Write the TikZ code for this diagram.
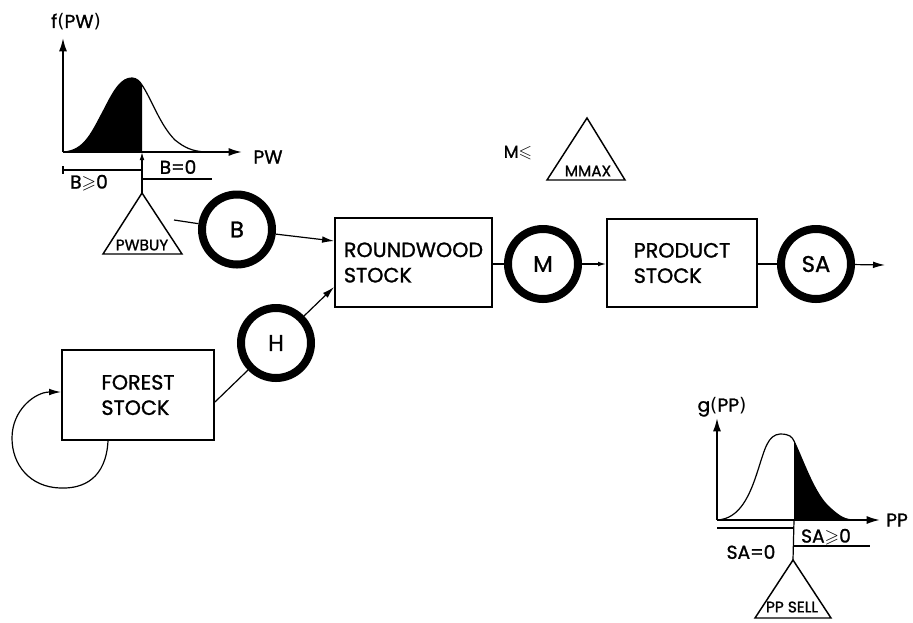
\documentclass[tikz,border=0pt]{standalone}
\usepackage{amssymb}
\usepackage{fontspec}
\setmainfont{Poppins}[FakeBold=1.2]
\newfontfamily\parenfont{DejaVu Sans}
\newcommand{\lp}{{\parenfont(}}
\newcommand{\rp}{{\parenfont)}}
\usetikzlibrary{arrows.meta}
\begin{document}
\begin{tikzpicture}[x=0.75pt,y=-0.75pt,
  stockbox/.style={draw,line width=1.4pt,align=left,font=\fontsize{15.5}{19}\selectfont,inner sep=0pt},
  rate/.style={draw,circle,line width=6pt,minimum size=52.5pt,inner sep=0pt,font=\fontsize{17}{20}\selectfont},
  conn/.style={line width=0.9pt},
  arr/.style={conn,-{Latex[length=9pt,width=5pt]}},
  sarr/.style={conn,-{Latex[length=6pt,width=3.5pt]}},
  lbl/.style={font=\fontsize{14}{16}\selectfont,inner sep=0pt},
  tri/.style={line width=1.1pt,line join=miter},
  small/.style={font=\fontsize{11.5}{13}\selectfont,inner sep=0pt},
  axis/.style={line width=1.3pt,-{Latex[length=10pt,width=6pt]}},
  curve/.style={line width=0.9pt}
]
\useasboundingbox[fill=white] (0,0) rectangle (913,622);

% ---- stocks
\node[stockbox,minimum width=117.75pt,minimum height=66.75pt] (rw) at (413.5,262.5) {ROUNDWOOD\\STOCK};
\node[stockbox,minimum width=112.5pt,minimum height=66pt] (ps) at (682,263) {PRODUCT\\STOCK};
\node[stockbox,minimum width=114pt,minimum height=67.5pt] (fs) at (138,395) {FOREST\\STOCK};

% ---- rates
\node[rate] (B) at (237,229.5) {B};
\node[rate] (H) at (276,343) {H};
\node[rate] (M) at (543,264) {M};
\node[rate] (SA) at (816,264) {SA};

% ---- connectors
\coordinate (pwout) at (174,220);
\draw[conn] (pwout) -- (B);
\draw[arr] (B) -- (rw.west |- 0,241);
\draw[arr] (H) -- (rw.west |- 0,287);
\draw[conn] (fs.east |- 0,402) -- (H);
\draw[conn] (rw.east |- M) -- (M);
\draw[sarr] (M) -- (ps.west |- M);
\draw[conn] (ps.east |- SA) -- (SA);
\coordinate (out) at (885,265);
\draw[arr] (SA) -- (out);
\draw[arr] (fs.south -| 108,0) .. controls (106,478) and (84,489) .. (60,488)
  .. controls (30,487) and (12,465) .. (12,438)
  .. controls (12,410) and (35,392) .. (fs.west |- 0,392);

% ---- PWBUY triangle and f(PW)
\coordinate (pwA) at (142,193);
\draw[tri] (pwA) -- (103,254) -- (182,254) -- cycle;
\node[small] (pwbuy) at (142,245) {PWBUY};
\coordinate (o1) at (63,152);
\draw[axis] (o1) -- (63,38);
\draw[axis] (o1) -- (242,152);
\fill (63,152) .. controls (85,151) and (92,132) .. (105,108)
  .. controls (115,88) and (122,78) .. (132,78)
  .. controls (137,78) and (140,82) .. (142,85) -- (142,152) -- cycle;
\draw[curve] (63,152) .. controls (85,151) and (92,132) .. (105,108)
  .. controls (115,88) and (122,78) .. (132,78)
  .. controls (137,78) and (140,82) .. (142,85)
  .. controls (152,100) and (160,125) .. (175,140)
  .. controls (185,148) and (192,151) .. (205,152);
\draw[sarr] (pwA) -- (142,152);
\draw[conn] (63,170) -- (142,170);
\draw[conn] (63,166) -- (63,174);
\draw[conn] (142,179) -- (212,179);
\node[lbl] (fpw) at (76,22) {f\lp PW\rp};
\node[lbl] (pw) at (268,157) {PW};
\node[lbl] (b0) at (178,167) {B=0};
\node[lbl] (bg0) at (89,183) {B\(\geqslant\)0};

% ---- MMAX
\coordinate (mmA) at (587,118);
\draw[tri] (mmA) -- (547,180) -- (625,180) -- cycle;
\node[small] (mmax) at (588,171) {MMAX};
\node[font=\fontsize{13}{15}\selectfont,inner sep=0pt] (mle) at (518,153) {M\(\leqslant\)};

% ---- PP SELL and g(PP)
\coordinate (ppA) at (793,560);
\draw[tri] (ppA) -- (755,618) -- (831,618) -- cycle;
\node[small] (ppsell) at (792,607) {PP SELL};
\coordinate (o2) at (717,520);
\draw[axis] (o2) -- (717,418);
\draw[axis] (o2) -- (880,520);
\fill (794,441) .. controls (805,465) and (815,495) .. (830,508)
  .. controls (840,517) and (845,520) .. (855,520) -- (794,520) -- cycle;
\draw[curve] (717,520) .. controls (740,519) and (750,495) .. (758,470)
  .. controls (765,448) and (768,435) .. (780,434)
  .. controls (790,434) and (792,437) .. (794,441)
  .. controls (805,465) and (815,495) .. (830,508)
  .. controls (840,517) and (845,520) .. (855,520);
\draw[conn] (ppA) -- (794,520);
\draw[conn] (717,528) -- (794,528);
\draw[conn] (794,546) -- (870,546);
\node[lbl] (gpp) at (722,407) {g\lp PP\rp};
\node[lbl] (pp) at (897,520) {PP};
\node[lbl] (sag0) at (826,537) {SA\(\geqslant\)0};
\node[lbl] (sa0) at (751,552) {SA=0};
\end{tikzpicture}
\end{document}
